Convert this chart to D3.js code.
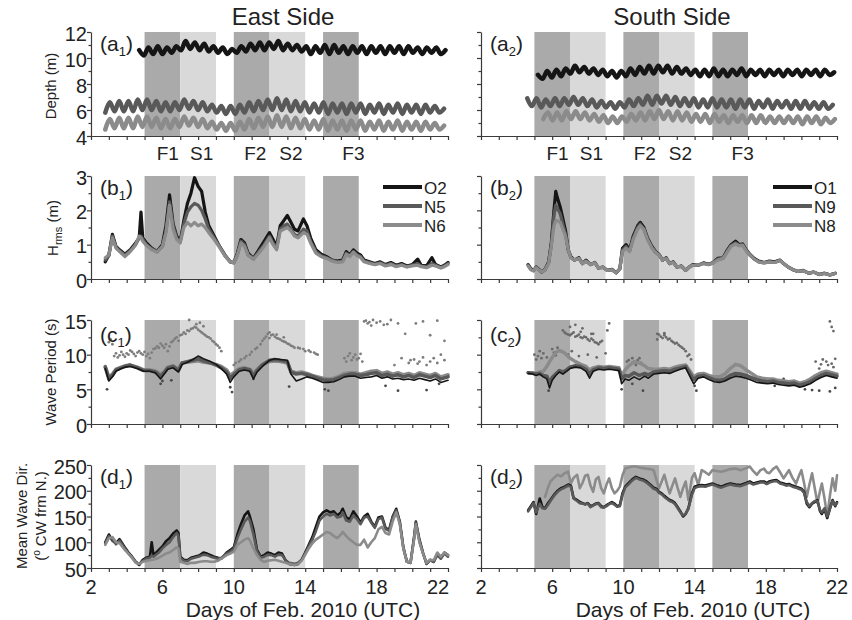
<!DOCTYPE html>
<html><head><meta charset="utf-8">
<script src="https://cdn.jsdelivr.net/npm/d3@7/dist/d3.min.js"></script>
<style>
body{margin:0;background:#fff}
text{font-family:"Liberation Sans",Arial,Helvetica,sans-serif;fill:#222}
</style></head>
<body><svg id="chart" width="852" height="620"></svg>
<script>
// ---------------- DATA ----------------
const sideTitles = ["East Side", "South Side"];
const panelLetters = ["a", "b", "c", "d"];
const xTickLabels = [2, 6, 10, 14, 18, 22];
const dayTicks = [2,3,4,5,6,7,8,9,10,11,12,13,14,15,16,17,18,19,20,21,22];
const bandStart = [5, 7, 10, 12, 15];
const bandEnd   = [7, 9, 12, 14, 17];
const bandKind  = ["F", "S", "F", "S", "F"];
const bandLabels = ["F1", "S1", "F2", "S2", "F3"];
const bandLabelDay = [6.3, 8.2, 11.2, 13.2, 16.7];

const depthTicks = [4, 6, 8, 10, 12], depthMinor = [5, 7, 9, 11];
const hrmsTicks = [0, 1, 2, 3], hrmsMinor = [0.5, 1.5, 2.5];
const periodTicks = [0, 5, 10, 15], periodMinor = [2.5, 7.5, 12.5];
const dirTicks = [50, 100, 150, 200, 250], dirMinor = [75, 125, 175, 225];

const legendEast = ["O2", "N5", "N6"];
const legendSouth = ["O1", "N9", "N8"];

// Depth (m): tidal highs/lows sampled every 0.26 day from the start day
const depthStep = 0.26;
const eastDepthStart = [4.7, 2.8, 2.8];
const eastDepthO2 = [10.6,10.2,10.8,10.3,10.9,10.3,10.8,10.4,10.9,
  10.6,11.3,10.7,11.2,10.6,11.1,
  10.5,10.9,10.4,10.8,10.3,10.7,10.4,
  10.9,10.5,11.1,10.6,11.2,10.6,11.2,10.7,11.3,10.6,11.1,10.6,11.0,10.5,
  10.9,10.3,10.9,10.4,11.0,10.3,11.0,10.4,10.9,10.3,10.9,10.4,10.9,10.3,10.9,10.4,10.9,10.3,10.9,10.4,10.9,10.3,10.9,10.4,10.8,10.3,10.8,10.4,10.8,10.3,10.6];
const eastDepthN5 = [5.8,6.6,5.9,6.7,5.9,6.7,5.9,6.8,6.0,
  6.8,6.0,6.7,5.9,6.6,5.9,6.6,6.0,
  6.8,6.1,6.7,6.0,6.6,5.9,
  6.4,5.8,6.3,5.7,6.3,5.7,6.4,
  5.8,6.6,5.9,6.7,6.0,6.8,6.0,6.9,6.0,6.8,5.9,6.7,5.9,6.6,
  5.8,6.5,5.8,6.6,5.7,6.5,5.8,6.5,5.7,6.5,5.8,6.5,5.7,6.4,5.8,6.5,5.7,6.4,5.8,6.5,5.7,6.4,5.8,6.4,5.7,6.4,5.8,6.3,5.8,6.1];
const eastDepthN6 = [4.5,5.3,4.6,5.4,4.6,5.4,4.6,5.5,4.7,
  5.5,4.7,5.4,4.6,5.3,4.6,5.3,4.7,
  5.5,4.8,5.4,4.7,5.3,4.6,
  5.1,4.5,5.0,4.4,5.0,4.4,5.1,
  4.5,5.3,4.6,5.4,4.7,5.5,4.7,5.6,4.7,5.5,4.6,5.4,4.6,5.3,
  4.5,5.2,4.5,5.3,4.4,5.2,4.5,5.2,4.4,5.2,4.5,5.2,4.4,5.1,4.5,5.2,4.4,5.1,4.5,5.2,4.4,5.1,4.5,5.1,4.4,5.1,4.5,5.0,4.5,4.8];
const southDepthStart = [5.2, 4.6, 5.5];
const southDepthO1 = [8.7,8.4,9.0,8.5,9.1,8.6,9.2,
  8.8,9.4,8.9,9.3,8.8,9.2,
  8.7,9.1,8.6,9.0,8.5,9.0,8.6,
  9.2,8.7,9.3,8.8,9.4,8.8,9.4,8.9,9.4,8.8,9.3,8.8,9.2,8.7,
  9.1,8.6,9.1,8.6,9.2,8.6,9.1,8.6,9.1,8.7,9.2,8.6,9.1,8.7,9.1,8.6,9.1,8.7,9.1,8.6,9.1,8.7,9.1,8.6,9.1,8.7,9.1,8.6,9.1,8.7,8.9];
const southDepthN9 = [6.9,6.3,6.9,6.2,6.8,6.3,6.9,6.3,6.9,
  6.4,7.0,6.4,6.9,6.3,6.8,
  6.2,6.7,6.2,6.6,6.1,6.6,6.2,
  6.8,6.3,6.9,6.4,7.1,6.4,7.1,6.5,7.1,6.4,7.0,6.3,6.9,6.3,
  6.9,6.2,6.8,6.2,6.9,6.2,6.8,6.2,6.8,6.1,6.8,6.2,6.8,6.1,6.7,6.2,6.8,6.1,6.7,6.2,6.7,6.1,6.7,6.1,6.7,6.1,6.6,6.1,6.6,6.1,6.4];
const southDepthN8 = [5.3,5.8,5.2,5.8,5.2,5.9,
  5.3,5.9,5.3,5.8,5.2,5.7,
  5.1,5.6,5.0,5.5,5.0,5.5,5.1,
  5.7,5.2,5.8,5.2,5.9,5.3,6.0,5.3,5.9,5.2,5.9,5.2,5.8,5.1,
  5.7,5.1,5.7,5.0,5.7,5.1,5.6,5.0,5.6,5.1,5.6,5.0,5.6,5.0,5.6,5.0,5.5,5.0,5.5,5.0,5.5,5.0,5.5,4.9,5.5,5.0,5.5,4.9,5.4,5.0,5.3];

// Hrms (m)
const eastHrmsDay = [2.8,3.0,3.2,3.4,3.6,3.9,4.2,4.5,4.7,4.8,4.9,5.1,5.4,5.7,6.0,6.2,6.4,6.6,6.8,7.0,7.2,7.4,7.6,7.8,8.0,8.2,8.4,8.6,8.9,9.2,9.5,9.8,10.0,10.2,10.4,10.6,10.8,11.1,11.4,11.7,12.0,12.2,12.4,12.6,12.8,13.0,13.2,13.4,13.6,13.9,14.1,14.3,14.6,14.9,15.2,15.5,15.8,16.1,16.3,16.5,16.7,16.9,17.1,17.3,17.6,17.9,18.2,18.5,18.8,19.1,19.4,19.7,20.0,20.3,20.5,20.8,21.1,21.3,21.6,21.8,22.0];
const eastHrmsO2 = [0.50,0.70,1.30,0.95,0.85,0.72,0.85,1.05,1.20,1.95,1.20,1.05,0.90,0.80,1.00,1.55,2.45,1.60,1.25,1.10,1.70,2.20,2.50,2.95,2.70,2.55,1.95,1.55,1.25,0.95,0.70,0.50,0.48,0.75,1.15,1.05,0.75,0.60,0.85,1.10,1.35,1.15,0.95,1.55,1.70,1.85,1.65,1.45,1.40,1.75,1.55,1.20,0.85,0.72,0.65,0.55,0.52,0.55,0.80,0.70,0.85,0.75,0.70,0.55,0.50,0.45,0.50,0.42,0.48,0.40,0.45,0.38,0.42,0.58,0.40,0.38,0.62,0.42,0.35,0.40,0.48];
const eastHrmsN5 = [0.55,0.68,1.25,0.92,0.82,0.70,0.82,1.00,1.20,1.25,1.15,1.00,0.88,0.80,0.95,1.40,2.25,1.55,1.20,1.10,1.60,1.95,2.10,2.20,2.15,2.00,1.75,1.45,1.20,0.95,0.68,0.50,0.47,0.70,1.10,1.00,0.70,0.58,0.80,1.00,1.25,1.05,0.90,1.45,1.55,1.60,1.45,1.30,1.25,1.45,1.40,1.10,0.80,0.68,0.62,0.55,0.50,0.52,0.75,0.68,0.80,0.70,0.66,0.52,0.48,0.43,0.47,0.40,0.45,0.38,0.42,0.36,0.40,0.45,0.38,0.35,0.45,0.40,0.33,0.38,0.45];
const eastHrmsN6 = [0.62,0.70,1.20,0.90,0.80,0.65,0.80,1.00,1.25,1.20,1.10,0.98,0.85,0.78,0.95,1.35,2.15,1.45,1.15,1.05,1.50,1.65,1.55,1.65,1.55,1.60,1.50,1.35,1.15,0.92,0.68,0.50,0.47,0.70,1.05,0.95,0.70,0.58,0.75,0.95,1.20,1.00,0.85,1.40,1.45,1.50,1.40,1.25,1.20,1.35,1.30,1.05,0.75,0.65,0.60,0.52,0.48,0.50,0.72,0.65,0.78,0.68,0.62,0.50,0.45,0.42,0.45,0.38,0.42,0.36,0.40,0.35,0.38,0.40,0.36,0.33,0.40,0.38,0.32,0.36,0.42];
const southHrmsDay = [4.65,4.8,4.95,5.1,5.25,5.4,5.6,5.8,5.95,6.1,6.2,6.3,6.45,6.6,6.75,6.9,7.05,7.25,7.5,7.7,7.9,8.15,8.4,8.6,8.85,9.1,9.35,9.6,9.8,9.95,10.15,10.35,10.55,10.8,10.95,11.15,11.35,11.6,11.8,12.0,12.2,12.4,12.6,12.8,13.0,13.25,13.5,13.7,13.9,14.2,14.5,14.8,15.0,15.3,15.6,15.85,16.05,16.3,16.5,16.7,16.9,17.1,17.35,17.6,17.9,18.2,18.5,18.8,19.0,19.25,19.5,19.8,20.1,20.4,20.7,21.0,21.3,21.6,21.9];
const southHrmsO1 = [0.42,0.30,0.25,0.35,0.28,0.20,0.28,0.50,1.05,2.00,2.55,2.35,2.10,1.75,1.40,0.85,0.65,0.55,0.62,0.45,0.55,0.42,0.48,0.32,0.35,0.25,0.28,0.18,0.30,0.90,1.00,0.85,1.25,1.55,1.65,1.50,1.20,0.95,0.80,0.72,0.55,0.62,0.45,0.50,0.35,0.38,0.25,0.35,0.42,0.40,0.47,0.43,0.47,0.60,0.62,0.85,1.00,1.10,1.00,1.02,0.85,0.72,0.60,0.52,0.48,0.52,0.50,0.55,0.45,0.35,0.28,0.22,0.25,0.17,0.20,0.13,0.17,0.12,0.17];
const southHrmsN9 = [0.40,0.28,0.24,0.34,0.27,0.20,0.27,0.48,1.00,1.85,2.15,2.05,1.90,1.60,1.30,0.85,0.62,0.55,0.60,0.45,0.52,0.42,0.47,0.32,0.34,0.25,0.27,0.18,0.30,0.85,0.95,0.82,1.20,1.50,1.60,1.45,1.18,0.92,0.78,0.70,0.55,0.60,0.45,0.50,0.35,0.37,0.25,0.35,0.40,0.40,0.45,0.42,0.46,0.58,0.60,0.82,0.97,1.05,0.98,1.00,0.83,0.70,0.58,0.50,0.47,0.50,0.48,0.54,0.45,0.35,0.28,0.22,0.24,0.17,0.20,0.13,0.16,0.12,0.16];
const southHrmsN8 = [0.38,0.27,0.24,0.33,0.26,0.20,0.27,0.45,0.95,1.55,1.70,1.70,1.65,1.45,1.25,0.85,0.62,0.55,0.60,0.45,0.52,0.42,0.47,0.32,0.34,0.25,0.27,0.18,0.30,0.80,0.90,0.80,1.15,1.45,1.55,1.45,1.15,0.90,0.78,0.70,0.55,0.60,0.45,0.48,0.35,0.37,0.25,0.35,0.40,0.40,0.45,0.42,0.46,0.55,0.60,0.80,0.95,1.02,0.97,0.98,0.82,0.70,0.58,0.50,0.47,0.50,0.48,0.54,0.45,0.35,0.28,0.22,0.24,0.17,0.20,0.13,0.16,0.12,0.16];

// Wave period (s)
const eastPerDay = [2.8,3.0,3.2,3.4,3.7,3.9,4.2,4.6,4.95,5.3,5.6,5.9,6.1,6.3,6.6,6.9,7.1,7.4,7.7,8.0,8.3,8.7,9.0,9.3,9.6,9.8,10.0,10.3,10.6,10.9,11.1,11.3,11.6,12.0,12.3,12.6,13.0,13.2,13.5,13.8,14.1,14.4,14.7,15.0,15.3,15.6,15.9,16.2,16.5,16.8,17.1,17.4,17.7,18.0,18.3,18.6,18.9,19.2,19.5,19.8,20.1,20.4,20.7,21.0,21.3,21.6,22.0];
const eastPerO2 = [8.0,6.2,6.8,7.6,8.0,8.2,8.3,8.0,7.6,7.6,7.4,6.5,7.2,7.9,8.1,7.5,8.6,8.9,9.3,9.8,9.4,9.0,8.6,8.0,7.2,6.0,6.8,7.6,7.8,7.6,6.5,7.5,8.3,9.2,9.4,9.3,9.2,7.2,6.2,6.5,6.8,6.6,6.3,6.0,6.0,6.1,6.4,6.8,6.9,6.9,6.6,6.7,6.8,7.0,6.6,6.8,6.5,6.6,6.4,6.5,6.3,6.6,6.4,6.2,6.5,6.0,6.3];
const eastPerN5 = [8.2,6.5,7.0,7.8,8.1,8.3,8.5,8.1,7.7,7.7,7.5,6.9,7.4,8.1,8.3,7.7,8.8,9.0,9.2,9.4,9.1,8.8,8.5,8.1,7.5,6.6,7.1,7.8,8.0,7.8,6.9,7.7,8.5,9.2,9.3,9.2,9.0,7.5,7.2,7.3,7.1,6.9,6.6,6.4,6.3,6.4,6.7,7.0,7.2,7.2,7.0,7.1,7.3,7.4,7.0,7.2,6.9,7.1,6.8,7.0,6.7,7.1,6.9,6.7,7.0,6.5,6.8];
const eastPerN6 = [8.3,6.8,7.2,7.9,8.2,8.4,8.5,8.2,7.8,7.8,7.7,7.2,7.6,8.2,8.4,7.9,8.8,8.9,9.0,9.1,8.9,8.8,8.6,8.3,7.8,7.0,7.4,8.0,8.1,7.9,7.3,7.9,8.6,9.0,9.1,9.0,8.8,7.6,7.4,7.5,7.3,7.0,6.8,6.6,6.5,6.6,6.9,7.3,7.4,7.4,7.2,7.4,7.6,7.7,7.3,7.5,7.2,7.4,7.1,7.3,7.0,7.4,7.2,7.0,7.3,6.8,7.1];
const eastSwellDay = [3.0,3.1,3.2,3.3,3.5,3.8,4.0,4.3,4.6,4.9,5.1,5.3,5.5,5.7,5.9,6.1,6.3,6.5,6.7,6.9,7.0,7.2,7.4,7.6,7.8,8.0,8.2,8.4,8.6,8.8,9.0,9.2,9.3,7.5,8.1,10.0,10.3,10.6,10.9,11.2,11.5,11.7,11.9,12.1,12.3,12.5,12.7,12.9,13.1,13.3,13.6,13.9,14.2,14.5,14.7,16.2,16.4,16.6,16.8,17.0,17.2,17.3,17.5,17.7,18.0,18.4,18.8,19.2,19.6,19.0,19.4,19.8,20.1,20.4,20.8,21.2,21.6,21.0,21.8,20.2,20.6,21.4,
  3.4,3.6,3.7,3.9,4.1,4.2,4.4,4.5,4.7,4.8,5.0,5.2,5.4,5.6,5.8,6.0,6.2,6.4,6.6,6.8,7.1,7.3,7.5,7.7,7.9,8.1,8.3,8.5,8.7,8.9,9.1,7.9,8.3,
  10.1,10.4,10.7,11.0,11.3,11.6,11.8,12.0,12.2,12.4,12.6,12.8,13.0,13.2,13.4,13.7,14.0,14.3,14.6,12.0,12.4,12.8,
  16.3,16.5,16.7,16.9,17.1,17.4,17.6,17.8,18.2,18.6,19.9,20.3,20.6,21.0,21.4,21.8];
const eastSwellPer = [11.8,12.2,11.5,9.8,9.6,10.0,10.2,10.4,10.3,10.0,9.8,9.5,10.8,11.2,11.6,11.0,10.5,11.8,12.3,12.0,12.8,13.2,13.5,13.7,14.0,13.6,13.2,12.8,12.5,12.0,11.5,11.0,10.5,15.0,14.6,8.5,9.0,9.5,10.0,10.8,11.5,12.3,13.0,12.8,12.6,12.3,12.0,11.8,11.5,11.2,11.0,10.8,10.6,10.3,10.0,9.5,9.8,9.2,10.0,9.5,9.0,14.8,14.5,14.2,14.6,14.3,15.0,14.5,13.0,8.5,9.5,8.8,9.3,9.0,8.5,9.5,10.0,12.8,12.0,14.5,14.8,14.9,
  10.2,9.9,10.4,9.7,10.0,10.6,10.1,9.8,10.5,10.2,10.4,10.1,10.3,10.9,11.0,11.3,11.5,11.2,12.0,12.5,12.9,13.0,13.4,13.8,13.9,13.4,13.0,12.6,12.3,11.8,11.3,14.4,14.1,
  8.8,9.3,9.8,10.4,11.0,12.0,12.6,13.2,12.9,12.4,12.2,11.9,11.6,11.3,11.0,10.9,10.5,10.4,10.1,12.4,12.9,12.5,
  9.0,10.2,9.6,9.3,10.1,14.9,14.7,15.0,14.8,14.4,9.2,8.7,9.6,9.0,8.8,9.2];
const eastLowDay = [2.9,5.9,6.0,9.8,9.9,13.1,15.1,15.3,18.5,19.2,20.8,21.5,11.1,6.5];
const eastLowPer = [5.0,5.8,6.2,5.3,4.6,5.4,5.0,4.8,5.5,4.8,4.9,5.8,6.5,6.3];
const southPerDay = [4.65,4.9,5.1,5.3,5.5,5.7,5.85,6.0,6.2,6.4,6.6,6.8,7.0,7.3,7.6,7.9,8.1,8.3,8.6,8.9,9.2,9.5,9.75,9.9,10.1,10.3,10.6,10.9,11.2,11.4,11.7,12.0,12.3,12.6,12.9,13.2,13.5,13.75,13.95,14.2,14.5,14.8,15.1,15.4,15.7,16.0,16.3,16.6,16.9,17.2,17.5,17.8,18.1,18.4,18.7,19.0,19.3,19.6,19.9,20.2,20.5,20.8,21.1,21.4,21.7,22.0];
const southPerO1 = [7.3,7.2,7.0,7.2,6.8,6.5,5.2,6.3,7.0,7.5,7.2,7.6,8.0,8.2,8.1,7.6,6.6,7.6,7.9,7.8,7.9,7.8,7.7,5.8,6.5,6.3,6.8,6.4,6.9,6.6,7.2,7.3,7.4,7.3,7.6,7.9,8.1,6.8,5.8,6.6,6.8,6.4,6.1,6.0,6.2,6.6,6.9,6.8,6.6,6.3,6.0,5.9,5.8,5.9,5.7,5.6,5.5,5.6,5.3,5.5,5.8,6.3,6.7,7.0,6.8,6.6];
const southPerN9 = [7.4,7.3,7.2,7.3,7.0,6.9,6.0,6.7,7.2,7.7,7.5,7.8,8.2,8.4,8.3,7.9,7.2,7.8,8.1,8.0,8.1,8.0,7.9,6.5,7.0,6.9,7.4,7.0,7.3,7.1,7.5,7.6,7.7,7.6,7.9,8.1,8.3,7.2,6.4,6.9,7.0,6.7,6.4,6.3,6.5,7.0,7.3,7.2,7.0,6.7,6.4,6.2,6.1,6.2,6.0,5.9,5.8,5.9,5.6,5.8,6.1,6.6,7.0,7.3,7.1,6.9];
const southPerN8 = [7.4,7.4,7.3,7.5,7.6,8.3,9.0,9.6,10.3,10.6,10.4,10.0,9.5,9.0,8.6,8.3,7.8,8.1,8.3,8.2,8.3,8.2,8.1,7.0,7.8,8.4,9.0,8.8,8.4,8.0,7.9,7.9,8.0,7.9,8.2,8.4,8.5,7.6,6.8,7.2,7.3,7.0,6.8,6.8,7.2,8.0,8.6,8.4,7.8,7.3,6.8,6.6,6.5,6.5,6.3,6.2,6.1,6.2,5.9,6.1,6.5,7.0,7.4,7.6,7.4,7.2];
const southSwellDay = [6.6,6.8,7.0,7.2,7.4,7.6,7.8,8.0,8.2,8.4,8.6,8.8,7.3,9.1,9.2,5.0,5.2,5.4,5.3,6.1,6.3,6.9,7.1,7.5,8.0,8.5,9.0,11.9,12.1,12.3,12.5,12.7,12.9,13.1,13.3,13.5,13.7,13.8,13.6,10.2,10.5,10.8,11.0,10.7,20.8,21.0,21.2,21.5,21.8,21.6,21.7,21.8,7.7,8.3,
  6.7,6.9,7.1,7.3,7.5,7.7,7.9,8.1,8.3,8.5,8.7,7.0,7.6,8.2,5.1,5.5,5.7,6.0,6.2,12.0,12.2,12.4,12.6,12.8,13.0,13.2,13.4,11.9,12.3,10.3,10.6,10.9,21.1,21.4,21.7,21.9];
const southSwellPer = [13.5,13.0,12.8,13.2,12.7,12.5,12.6,12.2,12.3,11.8,11.5,12.0,14.3,13.5,14.5,10.0,9.8,9.5,10.5,10.3,11.0,10.0,10.5,9.8,10.0,9.6,10.2,13.0,12.6,12.8,12.2,12.0,11.6,11.4,11.0,10.5,10.0,9.3,9.8,9.0,9.5,9.2,8.8,8.5,9.0,8.0,9.3,8.5,8.2,14.8,14.0,13.4,13.8,13.0,
  13.2,12.9,13.0,12.6,12.9,12.4,12.5,12.0,12.1,11.7,11.8,14.0,13.3,13.0,9.3,10.2,9.6,10.8,9.9,12.9,12.4,12.5,12.3,11.8,11.7,11.2,10.8,12.2,13.1,9.2,8.9,9.5,8.6,9.0,8.7,9.4];
const southLowDay = [14.1,14.0,18.5,19.0,20.2,20.6,21.0,21.6,21.9,9.9,10.5,11.1,5.8];
const southLowPer = [4.8,5.5,5.5,6.5,5.0,4.9,4.8,4.7,5.2,5.0,5.8,4.8,4.8];

// Mean wave direction (deg CW from N)
const eastDirDay = [2.8,3.0,3.2,3.4,3.6,3.9,4.1,4.3,4.5,4.7,4.9,5.1,5.3,5.4,5.5,5.8,6.0,6.2,6.4,6.6,6.8,6.9,7.0,7.2,7.4,7.6,7.8,8.1,8.3,8.5,8.7,8.9,9.1,9.3,9.6,9.8,10.0,10.2,10.4,10.6,10.8,10.9,11.1,11.3,11.5,11.7,11.9,12.1,12.3,12.5,12.7,12.9,13.1,13.4,13.6,13.8,14.0,14.2,14.4,14.6,14.8,15.0,15.2,15.4,15.6,15.8,16.0,16.1,16.3,16.5,16.7,16.9,17.1,17.3,17.5,17.7,17.9,18.1,18.3,18.5,18.7,18.9,19.1,19.3,19.5,19.7,19.9,20.1,20.2,20.4,20.6,20.8,21.0,21.2,21.4,21.6,21.8,22.0];
const eastDirO2 = [100,115,103,98,106,90,80,72,62,56,66,70,72,100,75,85,92,102,108,117,123,118,72,66,65,70,72,75,80,78,75,72,70,68,80,85,90,115,135,152,160,150,125,85,72,75,80,78,75,80,78,65,58,56,58,66,80,95,110,130,150,158,162,158,160,152,158,165,148,145,160,150,138,150,155,140,130,148,150,128,124,150,165,140,90,62,60,110,140,105,80,58,66,62,78,70,80,75];
const eastDirN5 = [98,112,105,96,103,88,78,70,62,58,64,68,70,74,72,80,88,95,100,110,118,112,70,64,63,68,70,73,76,75,72,70,68,70,78,82,88,108,125,140,148,142,115,82,70,72,76,75,72,76,75,65,60,58,60,66,78,92,105,122,142,150,155,152,155,148,150,158,142,140,152,145,135,148,150,138,128,145,148,126,122,148,162,138,88,62,60,108,138,102,78,58,65,62,75,68,78,72];
const eastDirN6 = [95,108,110,100,98,85,78,70,60,58,62,64,65,66,66,70,74,78,80,85,90,88,62,60,58,60,60,62,63,63,62,62,64,68,75,78,82,95,100,105,108,104,88,75,66,62,64,65,66,64,62,60,58,56,58,64,76,88,98,105,110,115,120,118,112,108,115,120,112,105,100,95,95,105,90,100,108,125,130,118,115,140,158,135,88,62,60,105,135,100,78,60,66,65,80,72,80,75];
const southDirDay = [4.65,4.8,4.95,5.1,5.3,5.45,5.6,5.75,5.9,6.1,6.3,6.5,6.7,6.9,7.05,7.2,7.4,7.55,7.7,7.85,8.0,8.15,8.3,8.45,8.6,8.75,8.9,9.05,9.2,9.35,9.5,9.65,9.8,9.95,10.1,10.3,10.5,10.7,10.9,11.1,11.3,11.5,11.7,11.85,12.0,12.15,12.3,12.45,12.6,12.75,12.9,13.05,13.2,13.35,13.5,13.65,13.85,14.0,14.2,14.4,14.6,14.8,15.0,15.3,15.5,15.8,16.0,16.3,16.6,16.9,17.1,17.3,17.5,17.7,17.9,18.05,18.2,18.4,18.6,18.8,19.0,19.15,19.3,19.5,19.7,19.85,20.0,20.15,20.3,20.45,20.6,20.75,20.9,21.05,21.15,21.3,21.45,21.6,21.75,21.9,22.0];
const southDirO1 = [162,170,178,155,185,168,166,175,182,192,200,205,208,212,210,186,182,178,176,174,176,170,172,175,176,170,168,172,175,178,175,170,172,195,208,215,222,227,224,222,218,212,206,204,198,195,190,186,182,180,176,168,160,150,155,166,195,208,210,211,210,212,214,210,208,212,214,212,211,215,218,214,216,218,218,215,218,220,221,216,214,212,213,210,208,206,204,198,175,168,175,178,182,160,155,165,147,165,182,170,178];
const southDirN9 = [160,168,176,158,175,166,165,172,180,190,198,203,206,210,208,185,180,176,175,173,175,168,171,174,175,168,167,170,174,176,173,169,170,192,206,213,220,225,222,220,216,210,204,202,196,193,188,184,180,178,174,166,158,152,156,165,192,205,208,209,208,210,212,208,206,210,212,210,209,213,216,212,214,216,216,213,216,218,219,214,212,210,211,208,206,204,202,196,178,170,176,180,180,162,158,166,150,166,180,172,176];
const southDirN8 = [null,null,null,null,null,null,188,205,218,225,231,228,234,237,214,225,231,205,215,229,231,210,198,222,227,205,195,212,224,205,195,200,208,230,243,245,247,247,245,244,243,242,240,222,205,218,231,212,195,210,224,205,188,205,218,182,225,234,211,240,236,231,240,238,237,240,242,243,240,244,247,238,231,240,243,236,234,242,247,236,224,232,240,225,214,228,240,215,188,212,234,205,176,200,214,185,150,190,224,200,230];

// ---------------- DRAWING ----------------
const svg = d3.select("#chart");
const cols = [{x0: 91, x1: 448}, {x0: 481, x1: 837}];
const rows = [{y0: 32, y1: 136}, {y0: 176, y1: 279}, {y0: 320, y1: 424}, {y0: 465, y1: 568}];
const C_O = "#151515", C_D = "#595959", C_L = "#8b8b8b";
const SHADE = {F: "#aaaaaa", S: "#d9d9d9"};
const AX = "#3a3a3a";

function seq(start, vals) { return vals.map((v, i) => [start + i * depthStep, v]); }
function zip(xs, ys) { return xs.map((x, i) => [x, ys[i]]); }

const panels = [
  [{domain: [4, 12], major: depthTicks, minor: depthMinor, w: 4.5,
    series: [[seq(eastDepthStart[1], eastDepthN5), C_D], [seq(eastDepthStart[2], eastDepthN6), C_L], [seq(eastDepthStart[0], eastDepthO2), C_O]], curve: true},
   {domain: [4, 12], major: depthTicks, minor: depthMinor, w: 4.5,
    series: [[seq(southDepthStart[1], southDepthN9), C_D], [seq(southDepthStart[2], southDepthN8), C_L], [seq(southDepthStart[0], southDepthO1), C_O]], curve: true}],
  [{domain: [0, 3], major: hrmsTicks, minor: hrmsMinor, w: 3.2,
    series: [[zip(eastHrmsDay, eastHrmsO2), C_O], [zip(eastHrmsDay, eastHrmsN5), C_D], [zip(eastHrmsDay, eastHrmsN6), C_L]], legend: legendEast},
   {domain: [0, 3], major: hrmsTicks, minor: hrmsMinor, w: 3.2,
    series: [[zip(southHrmsDay, southHrmsO1), C_O], [zip(southHrmsDay, southHrmsN9), C_D], [zip(southHrmsDay, southHrmsN8), C_L]], legend: legendSouth}],
  [{domain: [0, 15], major: periodTicks, minor: periodMinor, w: 3.5,
    series: [[zip(eastPerDay, eastPerN6), C_L], [zip(eastPerDay, eastPerN5), C_D], [zip(eastPerDay, eastPerO2), C_O, 1.6]],
    dots: [[zip(eastSwellDay, eastSwellPer), "#7d7d7d"], [zip(eastLowDay, eastLowPer), "#4a4a4a"]]},
   {domain: [0, 15], major: periodTicks, minor: periodMinor, w: 3.5,
    series: [[zip(southPerDay, southPerN8), C_L], [zip(southPerDay, southPerN9), C_D], [zip(southPerDay, southPerO1), C_O, 1.6]],
    dots: [[zip(southSwellDay, southSwellPer), "#6a6a6a"], [zip(southLowDay, southLowPer), "#4a4a4a"]]}],
  [{domain: [50, 250], major: dirTicks, minor: dirMinor, w: 2.6,
    series: [[zip(eastDirDay, eastDirO2), C_O], [zip(eastDirDay, eastDirN5), C_D], [zip(eastDirDay, eastDirN6), C_L]]},
   {domain: [50, 250], major: dirTicks, minor: dirMinor, w: 2.6,
    series: [[zip(southDirDay, southDirN8), C_L], [zip(southDirDay, southDirO1), C_O], [zip(southDirDay, southDirN9), C_D]]}]
];

rows.forEach((r, ri) => {
  cols.forEach((c, ci) => {
    const p = panels[ri][ci];
    const x = d3.scaleLinear().domain([2, 22]).range([c.x0, c.x1]);
    const y = d3.scaleLinear().domain(p.domain).range([r.y1, r.y0]);
    const g = svg.append("g");

    g.selectAll("rect.band").data(bandStart).enter().append("rect")
      .attr("x", (d) => x(d)).attr("width", (d, i) => x(bandEnd[i]) - x(d))
      .attr("y", r.y0).attr("height", r.y1 - r.y0)
      .attr("fill", (d, i) => SHADE[bandKind[i]]);

    (p.dots || []).forEach(([pts, col]) => {
      g.append("g").selectAll("circle").data(pts).enter().append("circle")
        .attr("cx", (d) => x(d[0])).attr("cy", (d) => y(d[1])).attr("r", 1.4).attr("fill", col);
    });

    p.series.forEach(([pts, col, wOverride]) => {
      const line = d3.line().defined((d) => d[1] != null)
        .x((d) => x(d[0])).y((d) => y(d[1]))
        .curve(p.curve ? d3.curveCatmullRom.alpha(0.5) : d3.curveLinear);
      g.append("path").datum(pts).attr("d", line).attr("fill", "none")
        .attr("stroke", col).attr("stroke-width", wOverride || p.w)
        .attr("stroke-linejoin", "round").attr("stroke-linecap", "round");
    });

    const ya = g.append("g").attr("transform", `translate(${c.x0},0)`)
      .call(d3.axisLeft(y).tickValues(p.major).tickSize(4).tickSizeOuter(0).tickPadding(0)
        .tickFormat(ci === 0 ? d3.format("d") : () => ""));
    g.append("g").attr("transform", `translate(${c.x0},0)`)
      .call(d3.axisLeft(y).tickValues(p.minor).tickSize(2.5).tickSizeOuter(0).tickFormat(() => ""))
      .call((s) => s.select(".domain").remove());
    g.append("g").attr("transform", `translate(0,${r.y1})`)
      .call(d3.axisBottom(x).tickValues(dayTicks).tickSize(4).tickSizeOuter(0).tickFormat(() => ""));
    g.selectAll(".domain, .tick line").attr("stroke", AX).attr("stroke-width", 1.2);
    ya.selectAll("text").attr("font-size", 20).attr("fill", "#222")
      .attr("font-family", '"Liberation Sans",Arial,sans-serif').attr("dy", "0.4em");

    if (ri === 3) {
      g.selectAll("text.xl").data(xTickLabels).enter().append("text")
        .attr("x", (d) => x(d) + (ci === 0 && d === 22 ? -10 : 0)).attr("y", 594)
        .attr("text-anchor", "middle").attr("font-size", 20).text((d) => d);
      g.append("text").attr("x", c.x0 + 212).attr("y", 617).attr("text-anchor", "middle")
        .attr("font-size", 21).text("Days of Feb. 2010 (UTC)");
    }

    if (ri === 0) {
      g.selectAll("text.fs").data(bandLabels).enter().append("text")
        .attr("x", (d, i) => x(bandLabelDay[i])).attr("y", 160)
        .attr("text-anchor", "middle").attr("font-size", 19).text((d) => d);
    }

    const lab = g.append("text").attr("x", c.x0 + 9).attr("y", r.y0 + (ri === 2 ? 22 : 19)).attr("font-size", 21);
    lab.append("tspan").text("(" + panelLetters[ri]);
    lab.append("tspan").attr("font-size", 13).attr("dy", 5).text(ci + 1);
    lab.append("tspan").attr("dy", -5).text(")");

    if (p.legend) {
      const cs = [C_O, C_D, C_L];
      p.legend.forEach((name, i) => {
        const ly = r.y0 + 11 + i * 19;
        g.append("line").attr("x1", c.x0 + 292).attr("x2", c.x0 + 331)
          .attr("y1", ly).attr("y2", ly).attr("stroke", cs[i]).attr("stroke-width", 4);
        g.append("text").attr("x", c.x0 + 333).attr("y", ly + 7).attr("font-size", 17).text(name);
      });
    }
  });
});

sideTitles.forEach((t, i) => {
  svg.append("text").attr("x", i === 0 ? 283 : 672).attr("y", 25)
    .attr("text-anchor", "middle").attr("font-size", 24).text(t);
});

function yTitle(cx, cy, build) {
  const t = svg.append("text").attr("transform", `translate(${cx},${cy}) rotate(-90)`)
    .attr("text-anchor", "middle").attr("font-size", 15);
  build(t);
}
yTitle(56, 86, (t) => t.text("Depth (m)"));
yTitle(58, 228, (t) => {
  t.append("tspan").text("H");
  t.append("tspan").attr("font-size", 11).attr("dy", 4).text("rms");
  t.append("tspan").attr("dy", -4).text(" (m)");
});
yTitle(56, 372, (t) => t.text("Wave Period (s)"));
yTitle(27, 516, (t) => t.text("Mean Wave Dir."));
yTitle(46, 516, (t) => {
  t.append("tspan").text("(");
  t.append("tspan").attr("font-size", 10).attr("dy", -6).text("o");
  t.append("tspan").attr("dy", 6).text(" CW frm N.)");
});
</script>
</body></html>
